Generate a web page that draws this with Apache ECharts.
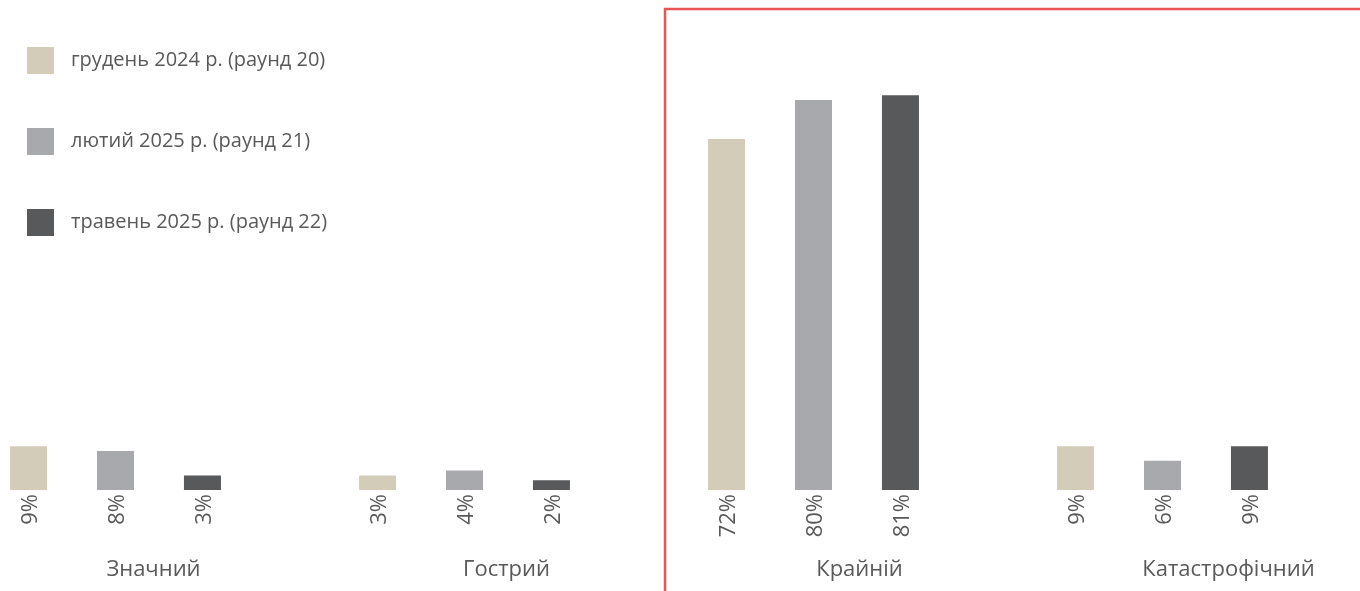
<!DOCTYPE html>
<html><head><meta charset="utf-8">
<script src="https://cdn.jsdelivr.net/npm/echarts@6/dist/echarts.min.js"></script>
<style>html,body{margin:0;padding:0;background:#fff}#c{width:1360px;height:591px}</style>
</head><body><div id="c"></div>
<script>
const categories = ['Значний', 'Гострий', 'Крайній', 'Катастрофічний'];
const seriesNames = ['грудень 2024 р. (раунд 20)', 'лютий 2025 р. (раунд 21)', 'травень 2025 р. (раунд 22)'];
const dec2024 = [9, 3, 72, 9];
const feb2025 = [8, 4, 80, 6];
const may2025 = [3, 2, 81, 9];
const colors = ['#d3ccb8', '#a8a9ad', '#58595b'];
const labelShift = [76, 84, 92, 132];

const chart = echarts.init(document.getElementById('c'));
const font = '"Open Sans", "Noto Sans", sans-serif';
const rich = {};
labelShift.forEach((p, i) => { rich['c' + i] = { padding: [0, 0, 0, p], fontSize: 22, color: '#595959', fontFamily: font }; });

function mk(name, data, color) {
  return {
    name, type: 'bar', data, barWidth: 37, barGap: '135%',
    itemStyle: { color },
    label: {
      show: true, position: 'bottom', rotate: 90, distance: 4,
      align: 'right', verticalAlign: 'middle', offset: [0, 2],
      formatter: p => p.value + '%',
      fontSize: 22, color: '#595959', fontFamily: font
    }
  };
}

chart.setOption({
  animation: false,
  backgroundColor: '#fff',
  textStyle: { fontFamily: font },
  legend: {
    orient: 'vertical', left: 27, top: 47, padding: 0, itemWidth: 27, itemHeight: 27, itemGap: 54,
    icon: 'rect', data: seriesNames,
    textStyle: { fontSize: 20, color: '#595959', fontFamily: font, padding: [0, 0, 0, 12] }
  },
  grid: { left: -59, width: 1396, top: 2.5, bottom: 101, containLabel: false, outerBoundsMode: 'none' },
  xAxis: {
    type: 'category', data: categories,
    axisLine: { show: false }, axisTick: { show: false },
    axisLabel: {
      margin: 69, interval: 0,
      formatter: (v, i) => '{c' + i + '|' + v + '}', rich
    }
  },
  yAxis: { type: 'value', min: 0, max: 100, show: false, splitLine: { show: false } },
  graphic: [{
    type: 'rect', shape: { x: 665, y: 9, width: 800, height: 700 },
    style: { fill: 'none', stroke: '#e95454', lineWidth: 2.5 }, z: 100
  }],
  series: [mk(seriesNames[0], dec2024, colors[0]), mk(seriesNames[1], feb2025, colors[1]), mk(seriesNames[2], may2025, colors[2])]
});
</script></body></html>
